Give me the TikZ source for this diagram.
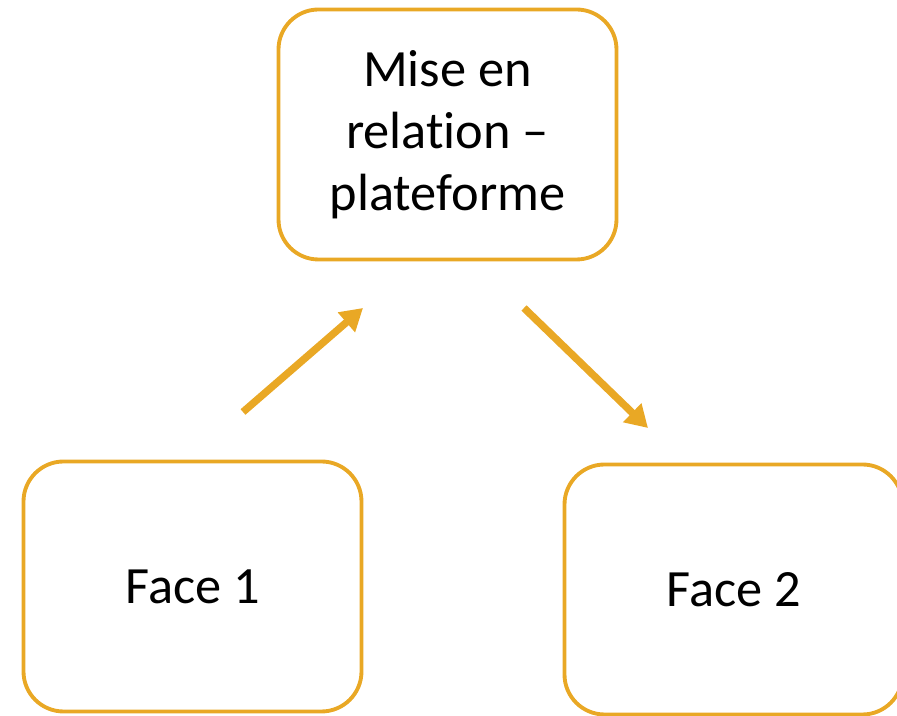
\documentclass[tikz,border=0pt]{standalone}
\usepackage{fontspec}
\setmainfont{Carlito}[RawFeature={-liga;-clig;-calt;-dlig}]
\usepackage{xcolor}
\usetikzlibrary{arrows.meta}
\definecolor{gold}{RGB}{233,168,37}
\tikzset{
    facebox/.style={draw=gold,line width=2.2pt,rounded corners=0.8cm,minimum width=6.76cm,minimum height=5.0cm,align=center,font=\fontsize{29.8}{35.3}\selectfont},
    flow/.style={gold,line width=4.2pt,-{Triangle[length=0.44cm,width=0.5cm]}}
}
\begin{document}
\begin{tikzpicture}
\useasboundingbox (0,0) rectangle (17.94,14.32); % page frame
\node[facebox] (platform) at (8.95,11.63) {Mise en\\relat\kern0pt ion --\\plateforme}; % middle party
\node[facebox] (face1) at (3.85,2.59) {Face 1}; % first side
\node[facebox] (face2) at (14.67,2.53) {Face 2}; % second side
\coordinate (in1) at (4.86,6.08); % tail of left arrow
\coordinate (in2) at (7.26,8.16); % head of left arrow
\coordinate (out1) at (10.48,8.16); % tail of right arrow
\coordinate (out2) at (12.96,5.76); % head of right arrow
\draw[flow] (in1) -- (in2); % face 1 to platform
\draw[flow] (out1) -- (out2); % platform to face 2
\end{tikzpicture}
\end{document}
